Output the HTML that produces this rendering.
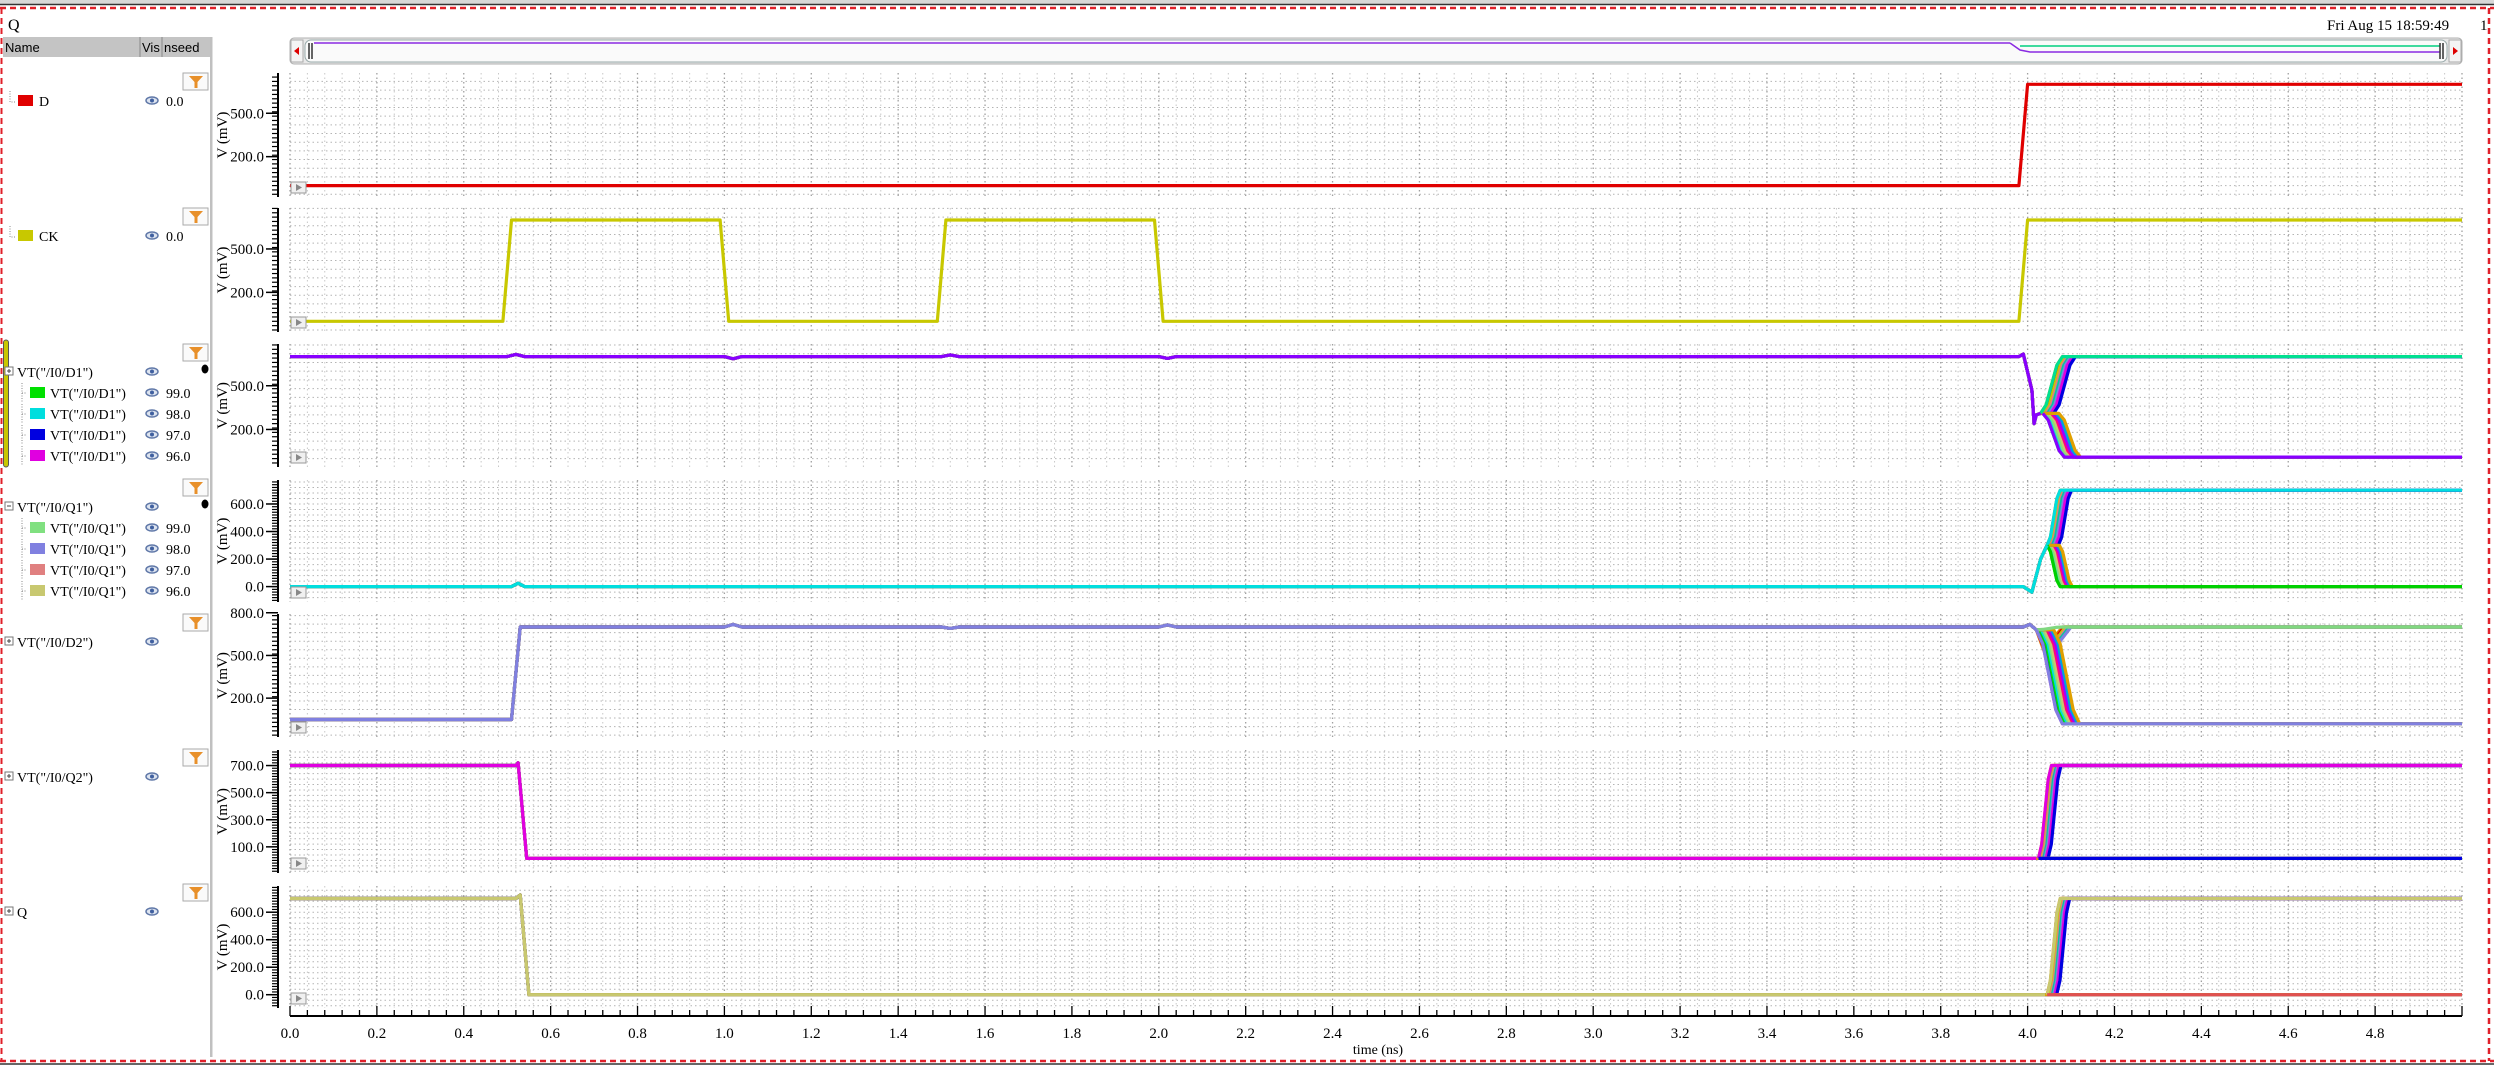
<!DOCTYPE html>
<html><head><meta charset="utf-8">
<style>
html,body{margin:0;padding:0;background:#fff;width:2494px;height:1068px;overflow:hidden;font-family:"Liberation Serif",serif;}
svg{display:block}
</style></head>
<body>
<svg id="main" width="2494" height="1068" xmlns="http://www.w3.org/2000/svg">
<rect x="0" y="0" width="2494" height="4" fill="#d8d8d8"/>
<line x1="0" y1="4.5" x2="2494" y2="4.5" stroke="#333" stroke-width="1.5"/>
<line x1="0" y1="8" x2="2494" y2="8" stroke="#e0202a" stroke-width="2.5" stroke-dasharray="6,4"/>
<line x1="0" y1="1061" x2="2494" y2="1061" stroke="#e0202a" stroke-width="2.5" stroke-dasharray="6,4"/>
<line x1="0" y1="1064" x2="2494" y2="1064" stroke="#333" stroke-width="1.5"/>
<line x1="2489" y1="8" x2="2489" y2="1061" stroke="#e0202a" stroke-width="2.5" stroke-dasharray="6,4"/>
<line x1="1.5" y1="8" x2="1.5" y2="1061" stroke="#e0202a" stroke-width="2" stroke-dasharray="6,4"/>
<text x="8" y="30" font-size="16">Q</text>
<text x="2327" y="30" font-size="15">Fri Aug 15 18:59:49</text>
<text x="2480" y="30" font-size="15">1</text>
<rect x="3" y="37" width="208" height="20" fill="#c4c4c4"/>
<line x1="140" y1="37" x2="140" y2="57" stroke="#888"/>
<line x1="162" y1="37" x2="162" y2="57" stroke="#888"/>
<text x="5" y="52" font-family="Liberation Sans, sans-serif" font-size="13">Name</text>
<text x="142" y="52" font-family="Liberation Sans, sans-serif" font-size="13">Vis</text>
<text x="164" y="52" font-family="Liberation Sans, sans-serif" font-size="13">nseed</text>
<rect x="210" y="37" width="2.5" height="1020" fill="#c0c0c0"/>
<rect x="3.5" y="340" width="5" height="127" rx="2.5" fill="#c8c800" stroke="#555" stroke-width="1"/>
<g id="leftpane"></g>
<g>
<rect x="290" y="38" width="2172" height="26" rx="4" fill="#e8e8e8" stroke="#b0b0b0"/>
<rect x="291" y="40" width="12" height="22" fill="#f4f4f4" stroke="#aaa"/>
<polygon points="299,47 299,55 294,51" fill="#d00"/>
<rect x="2449" y="40" width="12" height="22" fill="#f4f4f4" stroke="#aaa"/>
<polygon points="2453,47 2453,55 2458,51" fill="#d00"/>
<rect x="305" y="40" width="2142" height="22" rx="6" fill="#fafafa" stroke="#9aa"/>
<line x1="309" y1="43" x2="309" y2="59" stroke="#333" stroke-width="1.5"/><line x1="312" y1="43" x2="312" y2="59" stroke="#333" stroke-width="1.5"/>
<line x1="314" y1="43" x2="2010" y2="43" stroke="#8a2be2" stroke-width="1.5"/>
<path d="M2010,43 L2020,50 L2030,52 L2440,52" stroke="#8a2be2" stroke-width="1.5" fill="none"/>
<path d="M2020,46 L2440,46" stroke="#00d080" stroke-width="1.5" fill="none"/>
<line x1="2440" y1="43" x2="2440" y2="59" stroke="#333" stroke-width="1.5"/><line x1="2443" y1="43" x2="2443" y2="59" stroke="#333" stroke-width="1.5"/>
</g>
<g id="panels"></g>
<g id="xaxis"></g>
</svg>
<script>
const xTicks=[0.0,0.2,0.4,0.6,0.8,1.0,1.2,1.4,1.6,1.8,2.0,2.2,2.4,2.6,2.8,3.0,3.2,3.4,3.6,3.8,4.0,4.2,4.4,4.6,4.8];
const dT=[0,3.98,4.0,5];
const dV=[0,0,700,700];
const ckT=[0,0.49,0.51,0.99,1.01,1.49,1.51,1.99,2.01,3.98,4.0,5];
const ckV=[0,0,700,700,0,0,700,700,0,0,700,700];
const d1BaseT=[0,0.5,0.52,0.54,1.0,1.02,1.04,1.5,1.52,1.54,2.0,2.02,2.04,3.98,3.99,4.01,4.015,4.02,4.03];
const d1BaseV=[700,700,715,700,700,685,700,700,712,700,700,688,700,700,718,470,240,300,310];
const d1Delay=[0.0,0.004,0.008,0.012,0.016,0.02,0.024,0.03,0.005,0.01,0.015,0.02,0.025,0.03,0.036,0.042];
const d1Final=[700,700,700,700,700,700,700,700,10,10,10,10,10,10,10,10];
const q1BaseT=[0,0.51,0.525,0.54,3.99,4.0,4.01,4.03,4.045];
const q1BaseV=[0,0,25,0,0,-20,-40,200,300];
const q1Delay=[0.0,0.003,0.006,0.009,0.012,0.016,0.02,0.026,0.0,0.004,0.008,0.012,0.016,0.02,0.024,0.028];
const q1Final=[700,700,700,700,700,700,700,700,0,0,0,0,0,0,0,0];
const d2BaseT=[0,0.51,0.53,0.55,1.0,1.02,1.04,1.5,1.52,1.54,2.0,2.02,2.04,3.99,4.005,4.02];
const d2BaseV=[50,50,700,700,700,718,700,700,690,700,700,715,700,700,718,680];
const d2Delay=[0.0,0.004,0.008,0.012,0.016,0.02,0.0,0.004,0.008,0.012,0.016,0.02,0.025,0.03,0.035,0.04];
const d2Final=[700,700,700,700,700,700,20,20,20,20,20,20,20,20,20,20];
const q2BaseT=[0,0.52,0.525,0.545,4.02];
const q2BaseV=[700,700,720,15,15];
const q2Delay=[0.0,0.003,0.006,0.009,0.012,0.015,0.018,0.022,0,0,0,0,0,0,0,0];
const q2Final=[700,700,700,700,700,700,700,700,15,15,15,15,15,15,15,15];
const qBaseT=[0,0.52,0.53,0.55,0.56,4.04];
const qBaseV=[700,700,725,0,0,0];
const qDelay=[0.0,0.003,0.006,0.009,0.012,0.015,0.018,0.022,0,0,0,0,0,0,0,0];
const qFinal=[700,700,700,700,700,700,700,700,0,0,0,0,0,0,0,0];
const mcColors=['#e08000','#e00000','#c8c800','#e08080','#00c8a0','#8080e0','#e000e0','#0000e0','#00e000','#00dede','#80e080','#c8c870','#ff0080','#a000ff','#00a0e0','#e0a000'];

const T0=290, PXNS=434.4, XR=2462;
const X=t=>T0+t*PXNS;
const panels=[
 {name:'d',top:73,bot:197,y0:185.6,k:0.1447,labels:[500,200],minor:30},
 {name:'ck',top:208,bot:332,y0:321.3,k:0.1447,labels:[500,200],minor:30},
 {name:'d1',top:344,bot:467,y0:458.6,k:0.1457,labels:[500,200],minor:30},
 {name:'q1',top:480,bot:602,y0:586.6,k:0.1377,labels:[600,400,200,0],minor:20},
 {name:'d2',top:614,bot:737,y0:726.6,k:0.1423,labels:[800,500,200],minor:30},
 {name:'q2',top:750,bot:873,y0:860.4,k:0.1355,labels:[700,500,300,100],minor:20},
 {name:'q',top:886,bot:1008,y0:994.7,k:0.1375,labels:[600,400,200,0],minor:20}
];
const NS='http://www.w3.org/2000/svg';
function mk(tag,attrs,parent){const e=document.createElementNS(NS,tag);for(const a in attrs)e.setAttribute(a,attrs[a]);parent.appendChild(e);return e;}
const G=document.getElementById('panels');

function pathFrom(ts,vs,p){return ts.map((t,i)=>(i?'L':'M')+X(t).toFixed(1)+','+(p.y0-vs[i]*p.k).toFixed(1)).join(' ');}
function drawLine(g,ts,vs,p,color,name){
  const e=mk('path',{d:pathFrom(ts,vs,p),stroke:color,'stroke-width':3.2,fill:'none','stroke-linejoin':'round'},g);
  
  
}
function mcTraces(g,p,baseT,baseV,delays,finals,startT,dur,highCol,lowCol,preCol,key,dip){
  const sv=baseV[baseV.length-1];
  for(let i=0;i<delays.length;i++){
    const s=startT+delays[i], f=finals[i];
    const ts=baseT.slice(), vs=baseV.slice();
    if(dip && f>sv*0.5){ts.push(s+dur*0.3,s+dur*0.6,s+dur,5);vs.push(sv-dip-delays[i]*2000,sv-dip*0.5,f,f);}
    else {ts.push(s,s+dur*0.25,s+dur*0.75,s+dur,5);vs.push(sv,sv+(f-sv)*0.15,sv+(f-sv)*0.85,f,f);}
    drawLine(g,ts,vs,p,mcColors[i%mcColors.length],key+'-trace-seed-'+i);
  }
  const hi=finals.findIndex(f=>f>350), lo=finals.findIndex(f=>f<=350);
  [[hi,highCol],[lo,lowCol]].forEach(([i,c])=>{
    if(i<0)return;
    const s=startT+delays[i], f=finals[i];
    const ts=[s,s+dur*0.25,s+dur*0.75,s+dur,5], vs=[sv,sv+(f-sv)*0.15,sv+(f-sv)*0.85,f,f];
    drawLine(g,ts,vs,p,c,key+'-trace-nominal-'+(f>350?'high':'low'));
  });
  drawLine(g,baseT,baseV,p,preCol,key+'-trace-pre-switch');
}

panels.forEach((p,pi)=>{
  const g=mk('g',{},G);
  
  
  const vTop=(p.y0-p.top)/p.k, vBot=(p.y0-p.bot)/p.k;
  const gstep=p.minor*2;
  for(let v=Math.ceil(vBot/gstep)*gstep; v<=vTop; v+=gstep){
    const y=p.y0-v*p.k;
    mk('line',{x1:T0,x2:XR,y1:y,y2:y,stroke:'#b4b4b4','stroke-width':1,'stroke-dasharray':'1.5,3'},g);
  }
  for(let i=0;i<=125;i++){
    const x=X(i*0.04);
    const major=(i%5===0);
    mk('line',{x1:x,x2:x,y1:p.top,y2:p.bot,stroke:major?'#a0a0a0':'#c8c8c8','stroke-width':major?1.3:1,'stroke-dasharray':'1.5,3'},g);
  }
  mk('line',{x1:278,x2:278,y1:p.top,y2:p.bot,stroke:'#000','stroke-width':2},g);
  for(let v=Math.ceil(vBot/p.minor)*p.minor; v<=vTop; v+=p.minor){
    const y=p.y0-v*p.k;
    mk('line',{x1:272,x2:278,y1:y,y2:y,stroke:'#000','stroke-width':1.2},g);
  }
  p.labels.forEach(v=>{
    const y=p.y0-v*p.k;
    mk('line',{x1:266,x2:278,y1:y,y2:y,stroke:'#000','stroke-width':1.5},g);
    const t=mk('text',{x:264,y:y+5,'text-anchor':'end','font-size':15},g);
    t.textContent=v.toFixed(1);
    
    
  });
  const yt=mk('text',{x:0,y:0,'font-size':15,'text-anchor':'middle',transform:`translate(227,${(p.top+p.bot)/2}) rotate(-90)`},g);
  yt.textContent='V (mV)';
  
  
  if(p.name==='d') drawLine(g,dT,dV,p,'#e00000','d-trace');
  if(p.name==='ck') drawLine(g,ckT,ckV,p,'#c8c800','ck-trace');
  if(p.name==='d1') mcTraces(g,p,d1BaseT,d1BaseV,d1Delay,d1Final,4.03,0.05,'#00e090','#8800ff','#8800ff','d1');
  if(p.name==='q1') mcTraces(g,p,q1BaseT,q1BaseV,q1Delay,q1Final,4.045,0.03,'#00dede','#00d000','#00dede','q1');
  if(p.name==='d2') mcTraces(g,p,d2BaseT,d2BaseV,d2Delay,d2Final,4.02,0.06,'#80d880','#8080e0','#8080e0','d2',150);
  if(p.name==='q2') mcTraces(g,p,q2BaseT,q2BaseV,q2Delay,q2Final,4.025,0.03,'#e000e0','#0000e0','#e000e0','q2');
  if(p.name==='q') mcTraces(g,p,qBaseT,qBaseV,qDelay,qFinal,4.045,0.03,'#c8c870','#e05050','#c8c870','q');
  const pb=mk('g',{},g);
  
  
  mk('rect',{x:291,y:p.bot-15,width:15,height:11,fill:'#f0f0f0',stroke:'#999'},pb);
  mk('polygon',{points:`296,${p.bot-13} 296,${p.bot-6} 302,${p.bot-9.5}`,fill:'#888'},pb);
});

const XA=document.getElementById('xaxis');
mk('line',{x1:T0,x2:XR,y1:1016,y2:1016,stroke:'#000','stroke-width':2},XA);
for(let i=0;i<=125;i++){
  const x=X(i*0.04);
  mk('line',{x1:x,x2:x,y1:i%5===0?1006:1010,y2:1016,stroke:'#000','stroke-width':1.3},XA);
}
xTicks.forEach(t=>{
  const e=mk('text',{x:X(t),y:1038,'text-anchor':'middle','font-size':15},XA);
  e.textContent=t.toFixed(1);
  
  
});
const xt=mk('text',{x:1378,y:1054,'text-anchor':'middle','font-size':14},XA);
xt.textContent='time (ns)';



const LP=document.getElementById('leftpane');
const rows=[
 {y:101,label:'D',color:'#e00000',val:'0.0',kind:'leaf',filter:true},
 {y:236,label:'CK',color:'#c8c800',val:'0.0',kind:'leaf',filter:true},
 {y:372,label:'VT("/I0/D1")',val:'',kind:'group',sym:'+',filter:true,dot:true},
 {y:393,label:'VT("/I0/D1")',color:'#00e000',val:'99.0',kind:'child'},
 {y:414,label:'VT("/I0/D1")',color:'#00dede',val:'98.0',kind:'child'},
 {y:435,label:'VT("/I0/D1")',color:'#0000e0',val:'97.0',kind:'child'},
 {y:456,label:'VT("/I0/D1")',color:'#e000e0',val:'96.0',kind:'child'},
 {y:507,label:'VT("/I0/Q1")',val:'',kind:'group',sym:'-',filter:true,dot:true},
 {y:528,label:'VT("/I0/Q1")',color:'#80e080',val:'99.0',kind:'child'},
 {y:549,label:'VT("/I0/Q1")',color:'#8080e0',val:'98.0',kind:'child'},
 {y:570,label:'VT("/I0/Q1")',color:'#e08080',val:'97.0',kind:'child'},
 {y:591,label:'VT("/I0/Q1")',color:'#c8c870',val:'96.0',kind:'child'},
 {y:642,label:'VT("/I0/D2")',val:'',kind:'group',sym:'+',filter:true},
 {y:777,label:'VT("/I0/Q2")',val:'',kind:'group',sym:'+',filter:true},
 {y:912,label:'Q',val:'',kind:'group',sym:'+',filter:true}
];
rows.forEach((r,ri)=>{
  const g=mk('g',{},LP);
  
  
  let tx;
  if(r.kind==='leaf'){
    mk('path',{d:`M10,${r.y-10} L10,${r.y+1} L15,${r.y+1}`,stroke:'#888','stroke-dasharray':'1,1.5',fill:'none'},g);
    mk('rect',{x:18,y:r.y-6,width:15,height:11,fill:r.color},g); tx=39;
  } else if(r.kind==='child'){
    mk('path',{d:`M22,${r.y-10} L22,${r.y+10} M22,${r.y} L27,${r.y}`,stroke:'#888','stroke-dasharray':'1,1.5',fill:'none'},g);
    mk('rect',{x:30,y:r.y-6,width:15,height:11,fill:r.color},g); tx=50;
  } else {
    mk('rect',{x:5,y:r.y-5,width:8,height:8,fill:'#fff',stroke:'#777'},g);
    mk('line',{x1:7,x2:11,y1:r.y-1,y2:r.y-1,stroke:'#444'},g);
    if(r.sym==='+')mk('line',{x1:9,x2:9,y1:r.y-3,y2:r.y+1,stroke:'#444'},g);
    tx=17;
  }
  const t=mk('text',{x:tx,y:r.y+5,'font-size':14},g);
  t.textContent=r.label;
  
  
  const eye=mk('g',{},g);
  
  
  mk('ellipse',{cx:152,cy:r.y-0.5,rx:6,ry:3.5,fill:'#dde4f0',stroke:'#6078a8','stroke-width':1.5},eye);
  mk('circle',{cx:152,cy:r.y-0.5,r:2,fill:'#4060a0'},eye);
  if(r.val){const v=mk('text',{x:166,y:r.y+5,'font-size':14},g);v.textContent=r.val;
    
    }
  if(r.filter){
    const f=mk('g',{},g);
    
    
    const fy=r.y-28;
    mk('rect',{x:183,y:fy,width:25,height:17,fill:'#fafafa',stroke:'#aaa'},f);
    mk('polygon',{points:`189,${fy+3} 203,${fy+3} 197.5,${fy+9} 197.5,${fy+15} 194.5,${fy+15} 194.5,${fy+9}`,fill:'#e8902a'},f);
  }
  if(r.dot){mk('ellipse',{cx:205,cy:r.y-3,rx:3.5,ry:4.5,fill:'#000'},g);}
});
</script>
</body></html>
